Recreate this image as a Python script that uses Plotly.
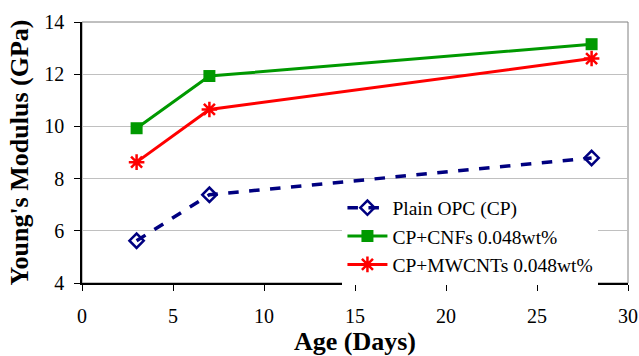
import plotly.graph_objects as go

age_days = [3, 7, 28]
plain_opc = [5.62, 7.38, 8.79]
cp_cnfs = [9.93, 11.93, 13.15]
cp_mwcnts = [8.63, 10.65, 12.6]
series_names = ["Plain OPC (CP)", "CP+CNFs 0.048wt%", "CP+MWCNTs 0.048wt%"]
x_ticks = [0, 5, 10, 15, 20, 25, 30]
y_ticks = [4, 6, 8, 10, 12, 14]

serif = "Times New Roman, Liberation Serif, serif"

fig = go.Figure()
fig.add_trace(go.Scatter(
    x=age_days, y=plain_opc, name=series_names[0], mode="lines+markers",
    line=dict(color="#000080", width=3.5, dash="dash"),
    marker=dict(symbol="diamond-open", size=11, color="#000080", line=dict(width=2.5, color="#000080")),
))
fig.add_trace(go.Scatter(
    x=age_days, y=cp_cnfs, name=series_names[1], mode="lines+markers",
    line=dict(color="#009900", width=3),
    marker=dict(symbol="square", size=12, color="#009900"),
))
fig.add_trace(go.Scatter(
    x=age_days, y=cp_mwcnts, name=series_names[2], mode="lines+markers",
    line=dict(color="#ff0000", width=3),
    marker=dict(symbol="asterisk-open", size=13, color="#ff0000", line=dict(width=2.5, color="#ff0000")),
))

fig.update_layout(
    width=639, height=356,
    margin=dict(l=82, r=11, t=22, b=73),
    paper_bgcolor="white", plot_bgcolor="white",
    font=dict(family=serif, size=20, color="black"),
    showlegend=True,
    legend=dict(
        x=0.477, y=0.362, xanchor="left", yanchor="top",
        bgcolor="white", borderwidth=0,
        font=dict(family=serif, size=19.5, color="black"),
        tracegroupgap=0, itemwidth=40,
    ),
    shapes=[dict(type="rect", xref="paper", yref="paper", x0=0, x1=1, y0=0, y1=1,
                 line=dict(color="#808080", width=1), layer="below")],
)
fig.update_xaxes(
    range=[0, 30], tickvals=x_ticks, showgrid=False, zeroline=False, automargin=False,
    showline=True, linecolor="black", linewidth=1.5,
    ticks="outside", ticklen=6, tickcolor="black", tickwidth=1, ticklabelstandoff=8,
    tickfont=dict(family=serif, size=20),
    title=dict(text="<b>Age (Days)</b>", font=dict(family=serif, size=26), standoff=8),
)
fig.update_yaxes(
    range=[4, 14], tickvals=y_ticks, showgrid=True, gridcolor="#c0c0c0", gridwidth=1,
    zeroline=False, automargin=False, showline=True, linecolor="black", linewidth=1.5,
    ticks="outside", ticklen=6, tickcolor="black", tickwidth=1, ticklabelstandoff=6,
    tickfont=dict(family=serif, size=20),
    title=dict(text="<b>Young's Modulus (GPa)</b>", font=dict(family=serif, size=26), standoff=8),
)

fig.write_html("out.html", config={"displayModeBar": False},
               post_script="document.body.style.margin='0';")
